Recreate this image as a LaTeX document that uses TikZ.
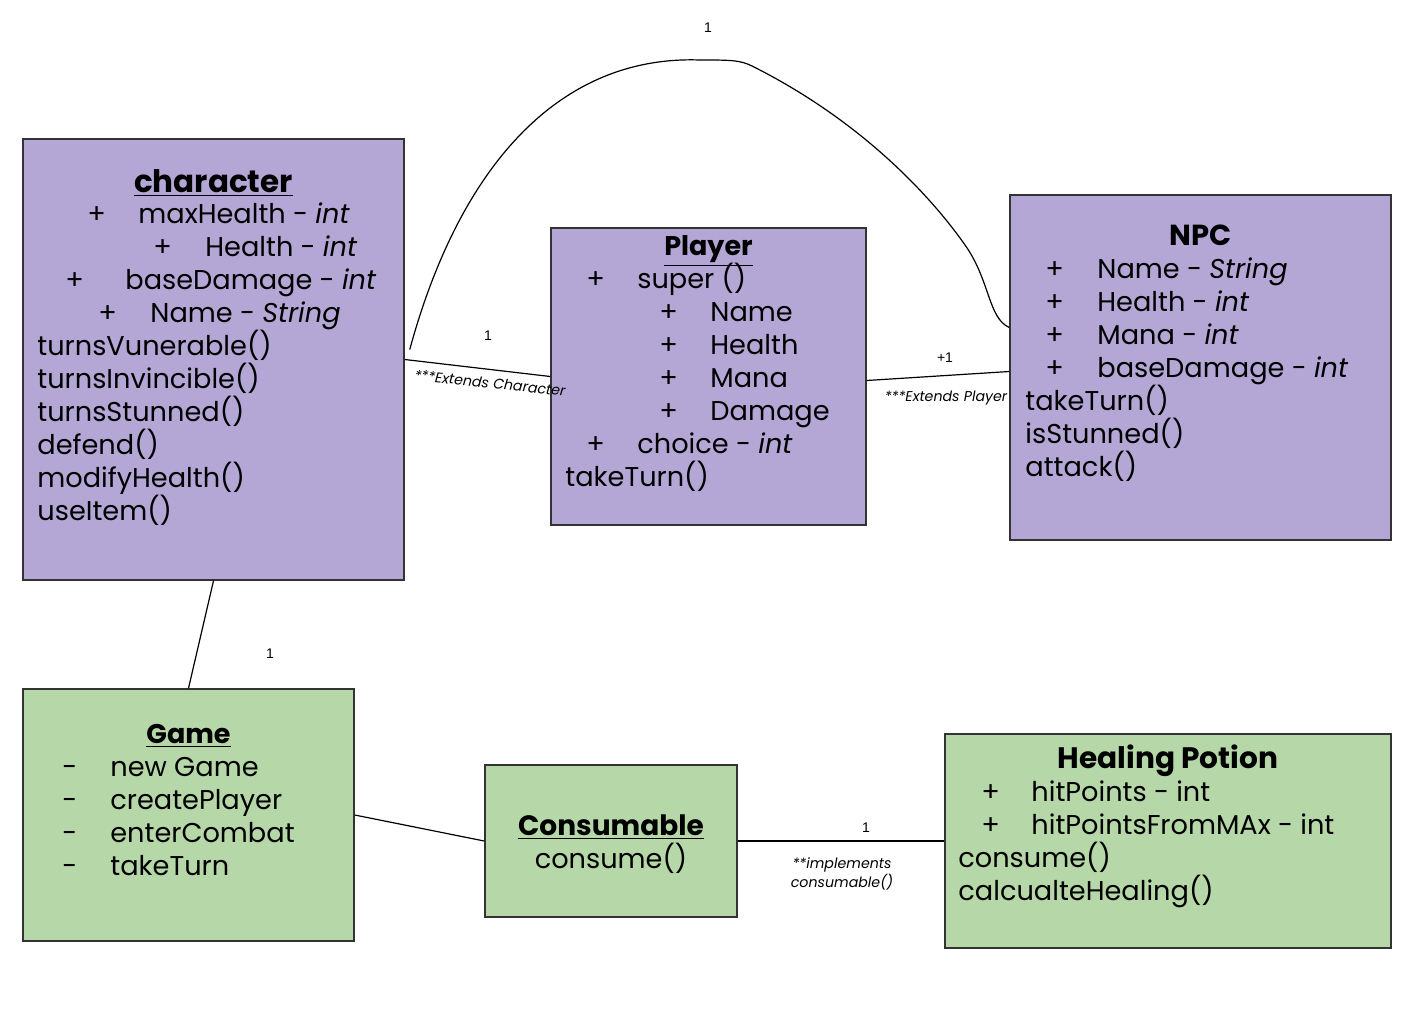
\documentclass[tikz,border=0pt]{standalone}
\usepackage{fontspec}
\setmainfont{Poppins}
\newfontfamily\labelfont{Liberation Sans}
\definecolor{classpurple}{HTML}{B4A7D6}
\definecolor{classgreen}{HTML}{B6D7A8}
\newdimen\pxu \pxu=0.5pt
% one member line: sign at #2, text at #3 (in pixels from the left)
\newcommand\attr[4][+]{\hspace*{#2\pxu}\makebox[\dimexpr#3\pxu-#2\pxu\relax][l]{#1}#4}

\begin{document}
\begin{tikzpicture}[x=0.5pt, y=-0.5pt,
	classbox/.style n args={2}{draw=black!80, line width=0.75pt, inner sep=0pt,
		minimum width=#1\pxu, minimum height=#2\pxu},
	title/.style={anchor=base, inner sep=0pt, font=\fontsize{13.5}{16}\selectfont\bfseries},
	member/.style={anchor=base west, inner sep=0pt, font=\fontsize{13.6}{16}\selectfont},
	mult/.style={inner sep=1pt, font=\labelfont\fontsize{7}{8}\selectfont},
	note/.style={inner sep=1pt, font=\fontsize{7.1}{9.5}\selectfont\itshape, align=center}]
	\useasboundingbox (0,0) rectangle (1416,1028);

	\node[classbox={381}{441}, fill=classpurple] (character) at (213.5,359.5) {};
	\node[classbox={315}{297}, fill=classpurple] (player) at (708.5,376.5) {};
	\node[classbox={381}{345}, fill=classpurple] (npc) at (1200.5,367.5) {};
	\node[classbox={331}{252}, fill=classgreen] (game) at (188.5,815) {};
	\node[classbox={252}{152}, fill=classgreen] (consumable) at (611,841) {};
	\node[classbox={446}{214}, fill=classgreen] (potion) at (1168,841) {};

	\node[title, font=\fontsize{15.5}{16}\selectfont\bfseries] (character title) at (213.5,192) {\underline{character}};
	\foreach \line [count=\i from 0] in {{\attr{50}{101}{maxHealth - \textit{int}}},
		{\attr{116}{168}{Health - \textit{int}}}, {\attr{28}{88}{baseDamage - \textit{int}}},
		{\attr{61}{113}{Name - \textit{String}}}, turnsVunerable(), turnsInvincible(),
		turnsStunned(), defend(), modifyHealth(), useItem()}
		\node[member] (character-\i) at (37,{223+33*\i}) {\line};

	\node[title] (player title) at (708.5,255) {\underline{Player}};
	\foreach \line [count=\i from 0] in {{\attr{21}{72}{super ()}}, {\attr{94}{145}{Name}},
		{\attr{94}{145}{Health}}, {\attr{94}{145}{Mana}}, {\attr{94}{145}{Damage}},
		{\attr{21}{72}{choice - \textit{int}}}, takeTurn()}
		\node[member] (player-\i) at (565,{288+33*\i}) {\line};

	\node[title, font=\fontsize{14.5}{16}\selectfont\bfseries] (npc title) at (1200.5,245) {NPC};
	\foreach \line [count=\i from 0] in {{\attr{20}{72}{Name - \textit{String}}},
		{\attr{20}{72}{Health - \textit{int}}}, {\attr{20}{72}{Mana - \textit{int}}},
		{\attr{20}{72}{baseDamage - \textit{int}}}, takeTurn(), isStunned(), attack()}
		\node[member] (npc-\i) at (1025,{278+33*\i}) {\line};

	\node[title] (game title) at (188.5,743) {\underline{Game}};
	\foreach \line [count=\i from 0] in {new Game, createPlayer, enterCombat, takeTurn}
		\node[member] (game-\i) at (62,{776+33*\i}) {\attr[-]{0}{48}{\line}};

	\node[title, font=\fontsize{14}{16}\selectfont\bfseries] (consumable title) at (611,835) {\underline{Consumable}};
	\node[member, anchor=base] (consumable-0) at (611,868) {consume()};

	\node[title, font=\fontsize{14.8}{16}\selectfont\bfseries] (potion title) at (1168,768.5) {Healing Potion};
	\foreach \line [count=\i from 0] in {{\attr{23}{73}{hitPoints - int}},
		{\attr{23}{73}{hitPointsFromMAx - int}}, consume(), calcualteHealing()}
		\node[member] (potion-\i) at (958,{801.5+33*\i}) {\line};

	% connectors
	\coordinate (arc start) at ([shift={(5,-10)}]character.east);
	\coordinate (arc end) at ([shift={(0,-40)}]npc.west);
	\draw[line width=0.6pt] (arc start) .. controls (460,165) and (560,55) .. (700,60)
		.. controls (730,60) and (740,60) .. (752,66)
		.. controls (860,120) and (930,195) .. (965,245)
		.. controls (990,280) and (988,318) .. (arc end);
	\draw[line width=0.6pt] (character.east) -- (player.west);
	\draw[line width=0.6pt] ([yshift=-2pt]player.east) -- ([yshift=-2pt]npc.west);
	\draw[line width=0.6pt] (character.south) -- (game.north);
	\draw[line width=0.6pt] (game.east) -- (consumable.west);
	\draw[line width=0.6pt] (consumable.east) -- (potion.west);

	\node[mult] (arc mult) at (708,28) {1};
	\node[mult] (player mult) at (488,336) {1};
	\node[note, rotate=-6] (player note) at (490,383) {***Extends Character};
	\node[mult] (npc mult) at (945,358) {+1};
	\node[note] (npc note) at (946,398) {***Extends Player};
	\node[mult] (game mult) at (270,654) {1};
	\node[mult] (potion mult) at (866,828) {1};
	\node[note] (potion note) at (842,874) {**implements\\consumable()};
\end{tikzpicture}
\end{document}
